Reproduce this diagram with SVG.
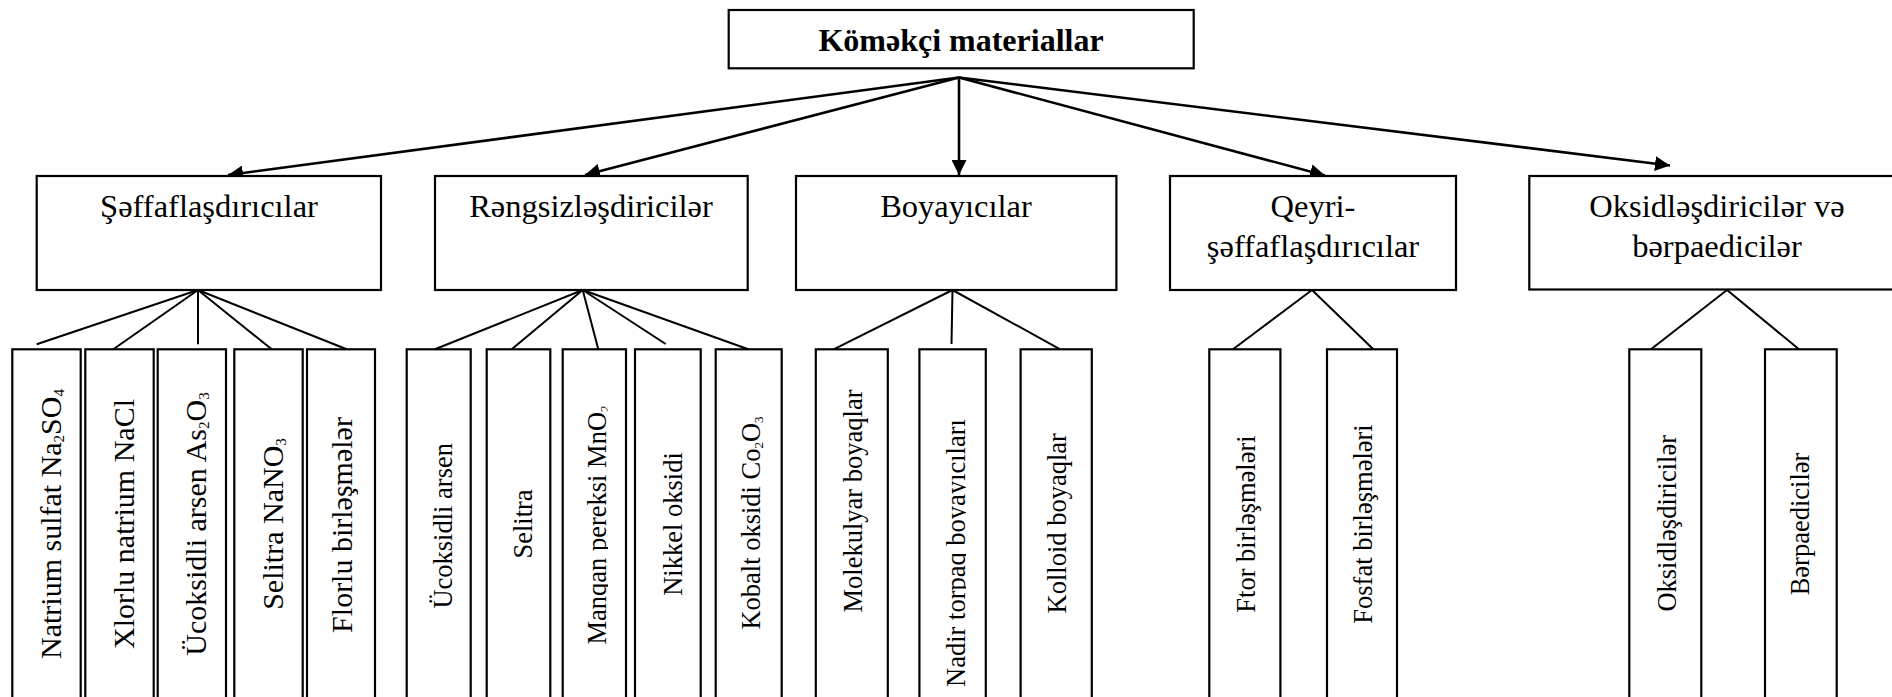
<svg xmlns="http://www.w3.org/2000/svg" width="1892" height="697" viewBox="0 0 1892 697">
<style>
  .box { fill: #fff; stroke: #000; stroke-width: 2.2; }
  .t { font-family: "Liberation Serif", "Times New Roman", serif; fill: #000; text-anchor: middle; }
  .title { font-size: 32px; font-weight: bold; }
  .h { font-size: 32.5px; }
  .v1 { font-size: 30px; }
  .v2 { font-size: 26.5px; }
  .arrow { stroke: #000; stroke-width: 2.6; fill: none; marker-end: url(#ah); }
  .ln { stroke: #000; stroke-width: 2; fill: none; }
</style>
<defs>
  <marker id="ah" markerUnits="userSpaceOnUse" markerWidth="16" markerHeight="15" refX="15" refY="7.5" orient="auto">
    <path d="M0,0 L15,7.5 L0,15 z" fill="#000"/>
  </marker>
  <clipPath id="clipMn"><rect x="560" y="340" width="48" height="360"/></clipPath>
  <clipPath id="clipNd"><rect x="917" y="340" width="49" height="360"/></clipPath>
</defs>
<rect width="1892" height="697" fill="#fff"/>

<g id="connectors">
  <line class="arrow" x1="959" y1="77.5" x2="228" y2="175"/>
  <line class="arrow" x1="959" y1="77.5" x2="585" y2="175"/>
  <line class="arrow" x1="959" y1="77.5" x2="959" y2="175"/>
  <line class="arrow" x1="959" y1="77.5" x2="1325" y2="175.5"/>
  <line class="arrow" x1="959" y1="77.5" x2="1670" y2="165.5"/>

  <line class="ln" x1="198" y1="290" x2="36.7" y2="344.3"/>
  <line class="ln" x1="198" y1="290" x2="113.3" y2="349.3"/>
  <line class="ln" x1="198" y1="290" x2="198" y2="344.3"/>
  <line class="ln" x1="198" y1="290" x2="271.7" y2="349.3"/>
  <line class="ln" x1="198" y1="290" x2="346.7" y2="349.3"/>

  <line class="ln" x1="582.7" y1="290" x2="435" y2="349.3"/>
  <line class="ln" x1="582.7" y1="290" x2="511.7" y2="349.3"/>
  <line class="ln" x1="582.7" y1="290" x2="598.3" y2="349.3"/>
  <line class="ln" x1="582.7" y1="290" x2="665.7" y2="344"/>
  <line class="ln" x1="582.7" y1="290" x2="748.3" y2="349.3"/>

  <line class="ln" x1="952.5" y1="290" x2="833.6" y2="349.3"/>
  <line class="ln" x1="952.5" y1="290" x2="951.5" y2="344"/>
  <line class="ln" x1="952.5" y1="290" x2="1060.2" y2="349.3"/>

  <line class="ln" x1="1312" y1="290" x2="1233" y2="349.3"/>
  <line class="ln" x1="1312" y1="290" x2="1373.3" y2="349.3"/>

  <line class="ln" x1="1727" y1="290" x2="1651" y2="349.3"/>
  <line class="ln" x1="1727" y1="290" x2="1799" y2="349.3"/>
</g>

<g id="root">
  <rect class="box" x="728.7" y="10" width="465" height="58.3"/>
  <text class="t title" x="961" y="50.7">Köməkçi materiallar</text>
</g>

<g id="seffaf">
  <rect class="box" x="36.7" y="176" width="344.3" height="114"/>
  <text class="t h" x="209" y="216.7">Şəffaflaşdırıcılar</text>
</g>
<g id="rengsiz">
  <rect class="box" x="435" y="176" width="312.7" height="114"/>
  <text class="t h" x="591" y="216.7">Rəngsizləşdiricilər</text>
</g>
<g id="boyayicilar">
  <rect class="box" x="796" y="176" width="320.4" height="114"/>
  <text class="t h" x="956" y="216.7">Boyayıcılar</text>
</g>
<g id="qeyri">
  <rect class="box" x="1170" y="176" width="286" height="114"/>
  <text class="t h" x="1313" y="216.5">Qeyri-</text>
  <text class="t h" x="1313" y="257">şəffaflaşdırıcılar</text>
</g>
<g id="oksid">
  <rect class="box" x="1529.3" y="176" width="396" height="113.5"/>
  <text class="t h" x="1717" y="216.5">Oksidləşdiricilər və</text>
  <text class="t h" x="1717" y="257">bərpaedicilər</text>
</g>

<g id="s1">
  <rect class="box" x="12.3" y="349.3" width="68.4" height="360"/>
  <text class="t v1" transform="translate(61 524) rotate(-90)">Natrium sulfat Na<tspan font-size="15" dy="3">2</tspan><tspan dy="-3">SO</tspan><tspan font-size="15" dy="3">4</tspan></text>
</g>
<g id="s2">
  <rect class="box" x="85.3" y="349.3" width="68.4" height="360"/>
  <text class="t v1" transform="translate(134.3 524) rotate(-90)">Xlorlu natrium NaCl</text>
</g>
<g id="s3">
  <rect class="box" x="157.7" y="349.3" width="68.3" height="360"/>
  <text class="t v1" transform="translate(206 524) rotate(-90)">Ücoksidli arsen As<tspan font-size="15" dy="3">2</tspan><tspan dy="-3">O</tspan><tspan font-size="15" dy="3">3</tspan></text>
</g>
<g id="s4">
  <rect class="box" x="234.3" y="349.3" width="68.4" height="360"/>
  <text class="t v1" transform="translate(283.3 524) rotate(-90)">Selitra NaNO<tspan font-size="15" dy="3">3</tspan></text>
</g>
<g id="s5">
  <rect class="box" x="307" y="349.3" width="68" height="360"/>
  <text class="t v1" transform="translate(352 525) rotate(-90)">Florlu birləşmələr</text>
</g>

<g id="r1">
  <rect class="box" x="406.7" y="349.3" width="64" height="360"/>
  <text class="t v2" transform="translate(451.7 525.8) rotate(-90)">Ücoksidli arsen</text>
</g>
<g id="r2">
  <rect class="box" x="486.7" y="349.3" width="63.6" height="360"/>
  <text class="t v2" transform="translate(531.7 524) rotate(-90)">Selitra</text>
</g>
<g id="r3">
  <rect class="box" x="562.7" y="349.3" width="63.3" height="360"/>
  <g clip-path="url(#clipMn)">
    <text class="t v2" transform="translate(606 525) rotate(-90)">Manqan pereksi MnO<tspan font-size="13" dy="3">2</tspan></text>
  </g>
</g>
<g id="r4">
  <rect class="box" x="635" y="349.3" width="65.7" height="360"/>
  <text class="t v2" transform="translate(681.7 524) rotate(-90)">Nikkel oksidi</text>
</g>
<g id="r5">
  <rect class="box" x="715.7" y="349.3" width="66" height="360"/>
  <text class="t v2" transform="translate(760 523) rotate(-90)">Kobalt oksidi Co<tspan font-size="13" dy="3">2</tspan><tspan dy="-3">O</tspan><tspan font-size="13" dy="3">3</tspan></text>
</g>

<g id="b1">
  <rect class="box" x="815.8" y="349.3" width="72" height="360"/>
  <text class="t v2" transform="translate(861.5 501) rotate(-90)">Molekulyar boyaqlar</text>
</g>
<g id="b2">
  <rect class="box" x="919.4" y="349.3" width="66.4" height="360"/>
  <g clip-path="url(#clipNd)">
    <text class="t v2" transform="translate(965 553) rotate(-90)">Nadir torpaq boyayıcıları</text>
  </g>
</g>
<g id="b3">
  <rect class="box" x="1020.6" y="349.3" width="71.2" height="360"/>
  <text class="t v2" transform="translate(1065.7 523.3) rotate(-90)">Kolloid boyaqlar</text>
</g>

<g id="q1">
  <rect class="box" x="1209.3" y="349.3" width="71.1" height="360"/>
  <text class="t v2" transform="translate(1254.7 524) rotate(-90)">Ftor birləşmələri</text>
</g>
<g id="q2">
  <rect class="box" x="1327" y="349.3" width="70" height="360"/>
  <text class="t v2" transform="translate(1372 524) rotate(-90)">Fosfat birləşmələri</text>
</g>

<g id="o1">
  <rect class="box" x="1629.3" y="349.3" width="72" height="360"/>
  <text class="t v2" transform="translate(1676 523.3) rotate(-90)">Oksidləşdiricilər</text>
</g>
<g id="o2">
  <rect class="box" x="1765" y="349.3" width="71.7" height="360"/>
  <text class="t v2" transform="translate(1809.3 524) rotate(-90)">Bərpaedicilər</text>
</g>
</svg>
